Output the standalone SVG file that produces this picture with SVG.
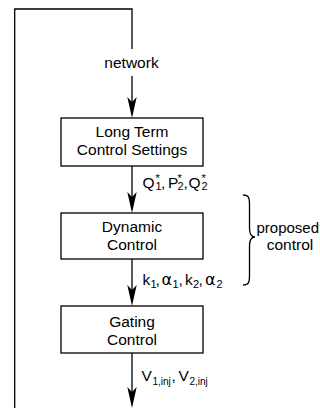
<svg xmlns="http://www.w3.org/2000/svg" width="320" height="408" viewBox="0 0 320 408">
<style>
.t{font-family:"Liberation Sans",Arial,sans-serif;font-size:15.5px;fill:#000}
.s{font-size:11px}
.v{font-size:10px}
.a{font-family:"DejaVu Sans",sans-serif;font-size:16px}
.box{fill:#fff;stroke:#000;stroke-width:1.3}
.ln{fill:none;stroke:#000;stroke-width:1.3}
</style>
<defs>
<marker id="ah" viewBox="-22 -5 22 10" refX="-6" refY="0" markerWidth="22" markerHeight="10" markerUnits="userSpaceOnUse" orient="auto">
<path d="M0,0 L-21,-4.7 L-16,0 L-21,4.7 Z" fill="#000"/>
</marker>
</defs>
<rect width="320" height="408" fill="#fff"/>
<g id="connectors">
<path class="ln" d="M132,49 V9 H14.7 V408"/>
<path class="ln" d="M132,76 V112" marker-end="url(#ah)"/>
<path class="ln" d="M132,166 V207" marker-end="url(#ah)"/>
<path class="ln" d="M132,259 V300" marker-end="url(#ah)"/>
<path class="ln" d="M132,353 V402" marker-end="url(#ah)"/>
<path class="ln" d="M243,195 C249,195 249.5,198 249.5,205 L249.5,228 C249.5,234 251,237 255,237 C251,237 249.5,240 249.5,246 L249.5,275 C249.5,282 249,285 243,285"/>
</g>
<g id="label-network"><text class="t" x="131.5" y="68" text-anchor="middle">network</text></g>
<g id="long-term">
<rect class="box" x="61" y="118" width="142" height="48"/>
<text class="t" x="132" y="137" text-anchor="middle">Long Term</text>
<text class="t" x="132" y="155" text-anchor="middle">Control Settings</text>
</g>
<g id="label-q">
<text class="t"><tspan x="142.5" y="188">Q</tspan><tspan class="s" x="155.5" y="181.5">*</tspan><tspan class="s" x="155.5" y="190">1</tspan><tspan x="161" y="188">,</tspan><tspan x="168" y="188">P</tspan><tspan class="s" x="177.5" y="181.5">*</tspan><tspan class="s" x="177.5" y="190">2</tspan><tspan x="183.5" y="188">,</tspan><tspan x="188.5" y="188">Q</tspan><tspan class="s" x="201.5" y="181.5">*</tspan><tspan class="s" x="201.5" y="190">2</tspan></text>
</g>
<g id="dynamic">
<rect class="box" x="61" y="213" width="142" height="46"/>
<text class="t" x="132" y="232" text-anchor="middle">Dynamic</text>
<text class="t" x="132" y="249.5" text-anchor="middle">Control</text>
</g>
<g id="label-proposed">
<text class="t" x="256.5" y="233" style="font-size:15px">proposed</text>
<text class="t" x="290" y="250" text-anchor="middle">control</text>
</g>
<g id="label-k">
<text class="t"><tspan x="142.5" y="284.5">k</tspan><tspan class="s" x="150.5" y="287.5">1</tspan><tspan x="155.5" y="284.5">,</tspan><tspan class="a" x="161.5" y="284.5">α</tspan><tspan class="s" x="172.5" y="287.5">1</tspan><tspan x="178.5" y="284.5">,</tspan><tspan x="185" y="284.5">k</tspan><tspan class="s" x="193" y="287.5">2</tspan><tspan x="198.5" y="284.5">,</tspan><tspan class="a" x="205" y="284.5">α</tspan><tspan class="s" x="216.5" y="287.5">2</tspan></text>
</g>
<g id="gating">
<rect class="box" x="61" y="306" width="142" height="47"/>
<text class="t" x="132" y="326.5" text-anchor="middle">Gating</text>
<text class="t" x="132" y="345" text-anchor="middle">Control</text>
</g>
<g id="label-v">
<text class="t"><tspan x="141.5" y="381">V</tspan><tspan class="v" x="152.5" y="384.5">1,inj</tspan><tspan x="171.5" y="381">,</tspan><tspan x="178.5" y="381">V</tspan><tspan class="v" x="189.5" y="384.5">2,inj</tspan></text>
</g>
</svg>
